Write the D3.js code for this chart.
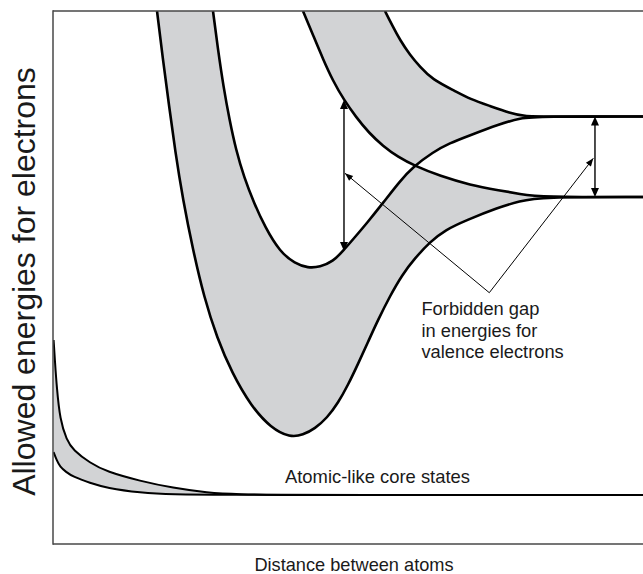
<!DOCTYPE html>
<html>
<head>
<meta charset="utf-8">
<script src="https://cdn.jsdelivr.net/npm/d3@7"></script>
<style>
  html, body { margin: 0; padding: 0; background: #fff; }
  svg { display: block; }
  text { font-family: "Liberation Sans", Arial, Helvetica, sans-serif; fill: #1a1a1a; }
</style>
</head>
<body>
<svg id="chart" width="643" height="574"></svg>
<script>
// Energy-band edges as [distance between atoms, energy], arbitrary units (0–100).
// Edges A and C end on the lower atomic level, B and D on the upper one.
const edgeA = [[17.63,100],[18.64,90.81],[19.66,82.36],[20.68,73.92],[22.03,64.54],[23.73,55.16],
  [25.59,46.34],[27.80,38.65],[30.34,32.08],[33.56,25.89],[36.95,21.76],[40.17,19.98],[42.37,20.45],
  [44.41,21.67],[46.44,23.64],[48.31,26.45],[50.00,29.83],[51.69,33.77],[53.39,37.90],[55.08,42.03],
  [57.12,46.53],[59.15,50.47],[61.36,53.66],[63.90,56.66],[66.44,58.91],[70.17,60.79],[75.25,63.04],
  [79.15,64.35],[82.54,65.1],[100,65.1]];
const edgeB = [[27.12,100],[27.97,92.68],[28.90,85.74],[29.92,79.55],[31.02,73.92],[32.37,68.86],
  [34.07,63.98],[35.93,59.47],[38.47,54.78],[41.02,52.63],[43.22,51.78],[45.25,51.97],[47.46,53.00],
  [49.15,54.97],[51.19,57.60],[53.22,60.23],[55.93,63.98],[58.81,68.11],[61.02,70.73],[64.41,73.55],
  [67.29,75.23],[70.17,76.45],[75.76,78.80],[79.15,79.92],[82.54,80.2],[100,80.2]];
const edgeC = [[42.37,100],[44.07,95.50],[45.76,90.99],[47.46,86.87],[49.32,83.30],[51.36,80.11],
  [53.56,77.11],[55.93,74.67],[58.47,72.61],[61.36,70.92],[65.59,69.04],[70.68,67.35],[75.76,66.32],
  [79.15,65.67],[82.54,65.1],[100,65.1]];
const edgeD = [[56.27,100],[57.46,97.37],[58.81,94.56],[60.51,91.74],[62.20,89.55],[64.24,87.2],
  [68.14,84.99],[70.68,83.49],[74.07,82.18],[77.46,80.86],[80.0,80.25],[82.54,80.2],[100,80.2]];

// Core levels: a narrow band that collapses onto a single level
const coreTop = [[0.1,38.27],[0.34,34.15],[0.63,29.51],[1.19,23.26],[2.32,19.51],[3.39,17.64],
  [6.27,15.20],[9.10,13.56],[14.75,11.82],[20.34,10.51],[26.05,9.62],[31.69,9.32],[38.47,9.22],
  [45.25,9.2],[100,9.2]];
const coreBottom = [[0.1,17.26],[0.68,15.57],[1.19,14.50],[2.20,13.51],[3.39,12.63],[6.27,11.44],
  [9.10,10.51],[14.75,9.62],[20.34,9.27],[28.31,9.2],[100,9.2]];

// Gap markers: vertical double arrows [distance, lower energy, upper energy]
const gapArrows = [[49.32,54.95,83.3],[91.86,65.1,80.2]];
// Pointer from the label to both gap markers
const pointerFrom = [73.95,47.15];
const pointerTo = [[49.49,69.55],[91.58,72.36]];

const gapLabel = ["Forbidden gap", "in energies for", "valence electrons"];
const gapLabelAt = [62.45,42.96];
const coreLabel = "Atomic-like core states";
const coreLabelAt = [39.32,11.39];
const xTitle = "Distance between atoms";
const yTitle = "Allowed energies for electrons";

const W = 643, H = 574;
const svg = d3.select("#chart");
const x = d3.scaleLinear().domain([0,100]).range([53,643]);
const y = d3.scaleLinear().domain([0,100]).range([544,11]);

svg.append("defs").append("clipPath").attr("id","plot")
  .append("rect").attr("x",x(0)).attr("y",y(100)).attr("width",x(100)-x(0)+20).attr("height",y(0)-y(100));

const line = d3.line().x(d => x(d[0])).y(d => y(d[1])).curve(d3.curveBasis);

// Region above/right of an edge, closed through the top-right corner
function above(data) {
  const first = data[0], last = data[data.length-1];
  return line(data) + `L${W+30},${y(last[1])}L${W+30},-30L${x(first[0])},-30Z`;
}
// Region below an edge, closed through the bottom-right corner
function below(data) {
  const first = data[0], last = data[data.length-1];
  return line(data) + `L${W+30},${y(last[1])}L${W+30},${H+30}L${x(first[0])},${H+30}Z`;
}

const plot = svg.append("g").attr("clip-path","url(#plot)");

// Shaded allowed bands (even-odd of the four edge regions)
plot.append("path")
  .attr("d", above(edgeA) + above(edgeB) + above(edgeC) + above(edgeD))
  .attr("fill","#d2d3d5").attr("fill-rule","evenodd");
plot.append("path")
  .attr("d", below(coreTop) + below(coreBottom))
  .attr("fill","#d2d3d5").attr("fill-rule","evenodd");

// Band edges
[edgeA, edgeB, edgeC, edgeD].forEach(e => {
  plot.append("path").attr("d", line(e)).attr("fill","none")
    .attr("stroke","#000").attr("stroke-width",2.6).attr("stroke-linejoin","round");
});
[coreTop, coreBottom].forEach(e => {
  plot.append("path").attr("d", line(e)).attr("fill","none")
    .attr("stroke","#000").attr("stroke-width",2);
});

// Frame: top, left and bottom
const frame = svg.append("g").attr("stroke","#474747").attr("stroke-width",1.5).attr("fill","none");
frame.append("line").attr("x1",x(0)).attr("x2",W).attr("y1",y(100)).attr("y2",y(100));
frame.append("line").attr("x1",x(0)).attr("x2",x(0)).attr("y1",y(100)-0.75).attr("y2",y(0)+0.75);
frame.append("line").attr("x1",x(0)).attr("x2",W).attr("y1",y(0)).attr("y2",y(0));

function head(tip, from, len, half) {
  const dx = tip[0]-from[0], dy = tip[1]-from[1];
  const L = Math.hypot(dx,dy), ux = dx/L, uy = dy/L;
  const bx = tip[0]-ux*len, by = tip[1]-uy*len;
  return `M${tip[0]},${tip[1]}L${bx-uy*half},${by+ux*half}L${bx+uy*half},${by-ux*half}Z`;
}

// Double arrows across the gap
const ann = svg.append("g");
gapArrows.forEach(([d,lo,hi]) => {
  const px = x(d), pLo = y(lo), pHi = y(hi);
  ann.append("line").attr("x1",px).attr("x2",px).attr("y1",pHi+4).attr("y2",pLo-4)
    .attr("stroke","#000").attr("stroke-width",1.4);
  ann.append("path").attr("d", head([px,pHi],[px,pLo],9,4)).attr("fill","#000");
  ann.append("path").attr("d", head([px,pLo],[px,pHi],9,4)).attr("fill","#000");
});

// Pointer lines from the label
const pf = [x(pointerFrom[0]), y(pointerFrom[1])];
pointerTo.forEach(t => {
  const pt = [x(t[0]), y(t[1])];
  ann.append("line").attr("x1",pf[0]).attr("y1",pf[1]).attr("x2",pt[0]).attr("y2",pt[1])
    .attr("stroke","#000").attr("stroke-width",1);
  ann.append("path").attr("d", head(pt, pf, 8, 3.2)).attr("fill","#000");
});

// Labels
const gl = svg.append("text").attr("x",x(gapLabelAt[0])).attr("y",y(gapLabelAt[1]))
  .style("font-size","18.3px");
gapLabel.forEach((s,i) => gl.append("tspan").attr("x",x(gapLabelAt[0])).attr("dy", i ? 21.5 : 0).text(s));

svg.append("text").attr("x",x(coreLabelAt[0])).attr("y",y(coreLabelAt[1]))
  .style("font-size","18.4px").text(coreLabel);

svg.append("text").attr("x",354).attr("y",571).attr("text-anchor","middle")
  .style("font-size","18.2px").text(xTitle);

svg.append("text").attr("transform","translate(35,281.5) rotate(-90)").attr("text-anchor","middle")
  .style("font-size","32px").text(yTitle);
</script>
</body>
</html>
